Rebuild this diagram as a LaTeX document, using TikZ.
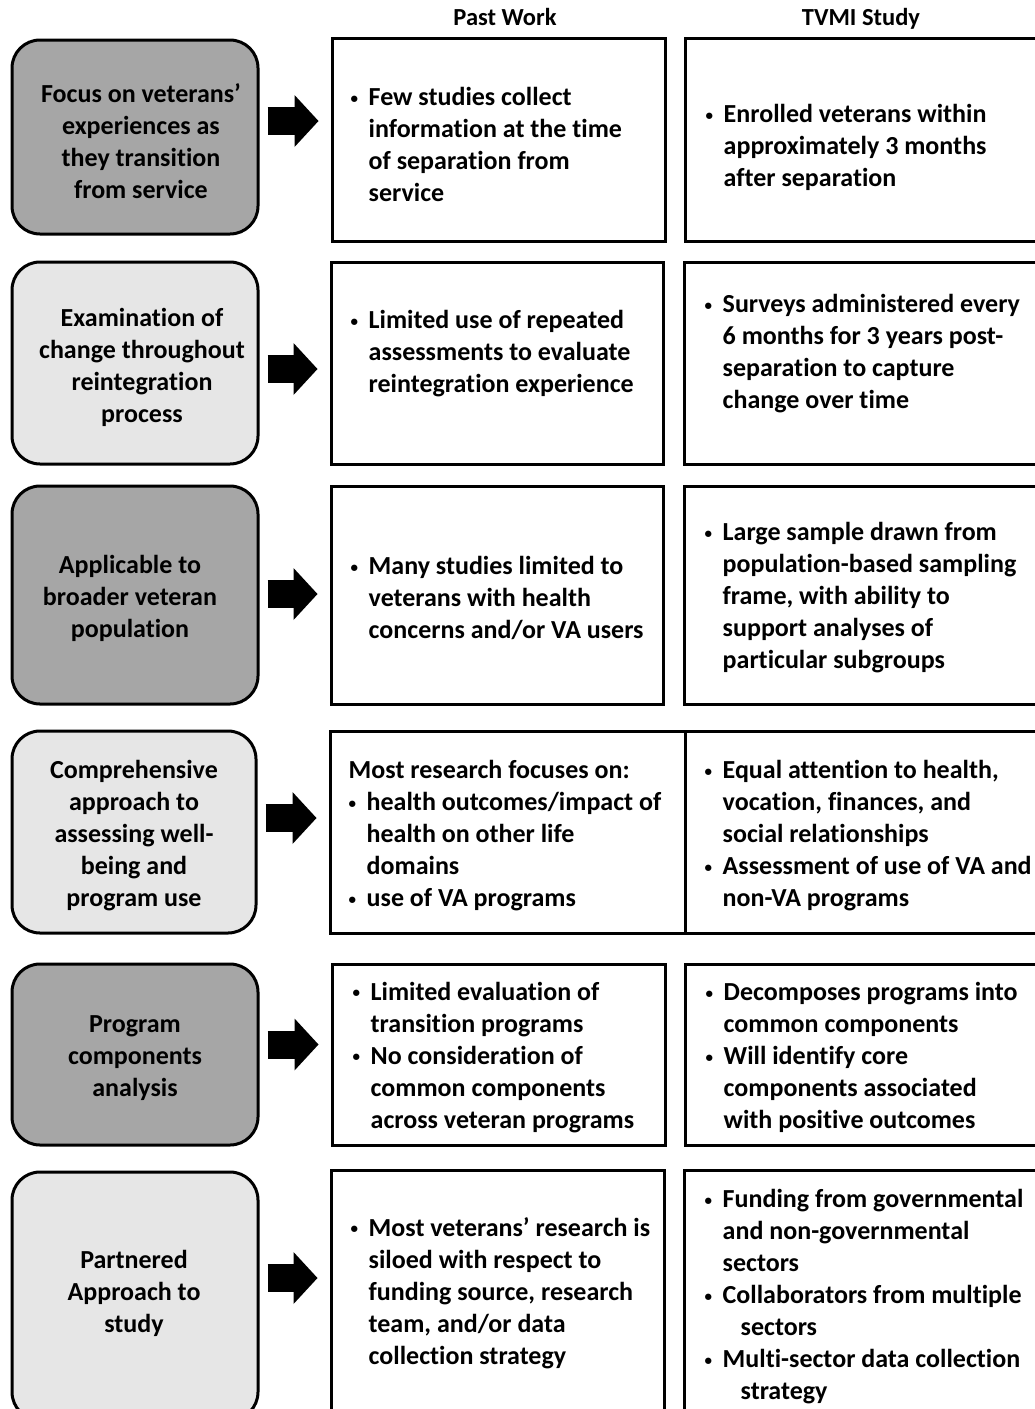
\documentclass[tikz,border=0pt]{standalone}
\usepackage{fontspec}
\setmainfont{Carlito}[Ligatures=NoCommon]
\usetikzlibrary{arrows.meta,positioning}
\definecolor{darkbox}{HTML}{A6A6A6}
\definecolor{lightbox}{HTML}{E6E6E6}
\newcommand{\bul}{\makebox[18pt][l]{\raisebox{2.5pt}{\fontsize{15}{15}\selectfont\textbullet}}}
\newcommand{\ind}{\makebox[18pt]{}}

\begin{document}
\begin{tikzpicture}[x=1pt,y=-1pt,
  every node/.style={font=\fontsize{26}{32}\selectfont\bfseries},
  topic/.style={draw,rounded corners=28pt,line width=3pt,minimum width=246pt,inner sep=0pt},
  dark/.style={topic,fill=darkbox},
  light/.style={topic,fill=lightbox},
  topictext/.style={align=center,inner sep=0pt},
  cell/.style={draw,line width=3pt,inner sep=0pt},
  celltext/.style={anchor=west,align=left,inner sep=0pt},
  head/.style={font=\fontsize{24.5}{28}\selectfont\bfseries,anchor=base},
  blockarrow/.style={line width=28pt,-{Triangle[width=52pt,length=24pt,line width=0pt]},shorten <=8pt,shorten >=12pt}]
\useasboundingbox (0,0) rectangle (1035,1409);
\clip (0,0) rectangle (1035,1409);

% column heads
\node[head] (hpast) at (505,25) {Past Work};
\node[head] (htvmi) at (861,25) {TVMI Study};

% row 1
\node[dark,minimum height=194pt] (l1) at (135,137) {};
\node[topictext] (l1x) at ([xshift=6pt,yshift=-4pt]l1.center) {Focus on veterans’\\experiences as\\they transition\\from service};
\node[cell,minimum width=333pt,minimum height=203pt] (p1) at (498.5,139.5) {};
\node[cell,minimum width=385pt,minimum height=203pt] (t1) at (877.5,139.5) {};
\node[celltext] (p1x) at ([xshift=20pt,yshift=-5pt]p1.west) {\bul Few studies collect\\\ind information at the time\\\ind of separation from\\\ind service};
\node[celltext] (t1x) at ([xshift=22pt,yshift=-8pt]t1.west) {\bul Enrolled veterans within\\\ind approximately 3 months\\\ind after separation};

% row 2
\node[light,minimum height=202pt] (l2) at (135,363) {};
\node[topictext] (l2x) at ([xshift=7pt,yshift=-4pt]l2.center) {Examination of\\change throughout\\reintegration\\process};
\node[cell,minimum width=332pt,minimum height=202pt] (p2) at (497,363) {};
\node[cell,minimum width=386pt,minimum height=202pt] (t2) at (877,363) {};
\node[celltext] (p2x) at ([xshift=21pt,yshift=9pt]p2.west) {\bul Limited use of repeated\\\ind assessments to evaluate\\\ind reintegration experience};
\node[celltext] (t2x) at ([xshift=22pt,yshift=9pt]t2.west) {\bul Surveys administered every\\\ind 6 months for 3 years post-\\\ind separation to capture\\\ind change over time};

% row 3
\node[dark,minimum height=218pt] (l3) at (135,595) {};
\node[topictext] (l3x) at ([xshift=-5pt,yshift=-3pt]l3.center) {Applicable to\\broader veteran\\population};
\node[cell,minimum width=332pt,minimum height=218pt] (p3) at (497,595) {};
\node[cell,minimum width=386pt,minimum height=218pt] (t3) at (877,595) {};
\node[celltext] (p3x) at ([xshift=21pt,yshift=-3pt]p3.west) {\bul Many studies limited to\\\ind veterans with health\\\ind concerns and/or VA users};
\node[celltext] (t3x) at ([xshift=22pt,yshift=-3pt]t3.west) {\bul Large sample drawn from\\\ind population-based sampling\\\ind frame, with ability to\\\ind support analyses of\\\ind particular subgroups};

% row 4
\node[light,minimum width=244pt,minimum height=202pt] (l4) at (134,832) {};
\node[topictext] (l4x) at ([yshift=-4pt]l4.center) {Comprehensive\\approach to\\assessing well-\\being and\\program use};
\node[cell,minimum width=355pt,minimum height=202pt] (p4) at (507.5,832) {};
\node[cell,minimum width=385pt,minimum height=202pt] (t4) at (877.5,832) {};
\node[celltext] (p4x) at ([xshift=20pt,yshift=-4pt]p4.west) {Most research focuses on:\\\bul health outcomes/impact of\\\ind health on other life\\\ind domains\\\bul use of VA programs};
\node[celltext] (t4x) at ([xshift=21pt,yshift=-4pt]t4.west) {\bul Equal attention to health,\\\ind vocation, finances, and\\\ind social relationships\\\bul Assessment of use of VA and\\\ind non-VA programs};

% row 5
\node[dark,minimum height=181pt] (l5) at (135,1054.5) {};
\node[topictext] (l5x) at ([yshift=-4pt]l5.center) {Program\\components\\analysis};
\node[cell,minimum width=333pt,minimum height=181pt] (p5) at (498.5,1054.5) {};
\node[cell,minimum width=385pt,minimum height=181pt] (t5) at (877.5,1054.5) {};
\node[celltext] (p5x) at ([xshift=22pt,yshift=-3pt]p5.west) {\bul Limited evaluation of\\\ind transition programs\\\bul No consideration of\\\ind common components\\\ind across veteran programs};
\node[celltext] (t5x) at ([xshift=22pt,yshift=-3pt]t5.west) {\bul Decomposes programs into\\\ind common components\\\bul Will identify core\\\ind components associated\\\ind with positive outcomes};

% row 6
\node[light,minimum height=248pt] (l6) at (135,1296) {};
\node[topictext] (l6x) at ([xshift=-1pt,yshift=3pt]l6.center) {Partnered\\Approach to\\study};
\node[cell,minimum width=333pt,minimum height=250pt] (p6) at (497.5,1295) {};
\node[cell,minimum width=386pt,minimum height=250pt] (t6) at (877,1295) {};
\node[celltext] (p6x) at ([xshift=21pt,yshift=2pt]p6.west) {\bul Most veterans’ research is\\\ind siloed with respect to\\\ind funding source, research\\\ind team, and/or data\\\ind collection strategy};
\node[celltext] (t6x) at ([xshift=22pt,yshift=-2pt]t6.west) {\bul Funding from governmental\\\ind and non-governmental\\\ind sectors\\\bul Collaborators from multiple\\\ind\ind sectors\\\bul Multi-sector data collection\\\ind\ind strategy};

% arrows
\draw[blockarrow] ([yshift=16pt]l1.east) -- ([yshift=16pt]l1.east -| p1.west);
\draw[blockarrow] ([yshift=-6pt]l2.east) -- ([yshift=-6pt]l2.east -| p2.west);
\draw[blockarrow] ([yshift=1pt]l3.east) -- ([yshift=1pt]l3.east -| p3.west);
\draw[blockarrow] ([yshift=14pt]l4.east) -- ([yshift=14pt]l4.east -| p4.west);
\draw[blockarrow] ([yshift=10pt]l5.east) -- ([yshift=10pt]l5.east -| p5.west);
\draw[blockarrow] ([yshift=18pt]l6.east) -- ([yshift=18pt]l6.east -| p6.west);
\end{tikzpicture}
\end{document}
